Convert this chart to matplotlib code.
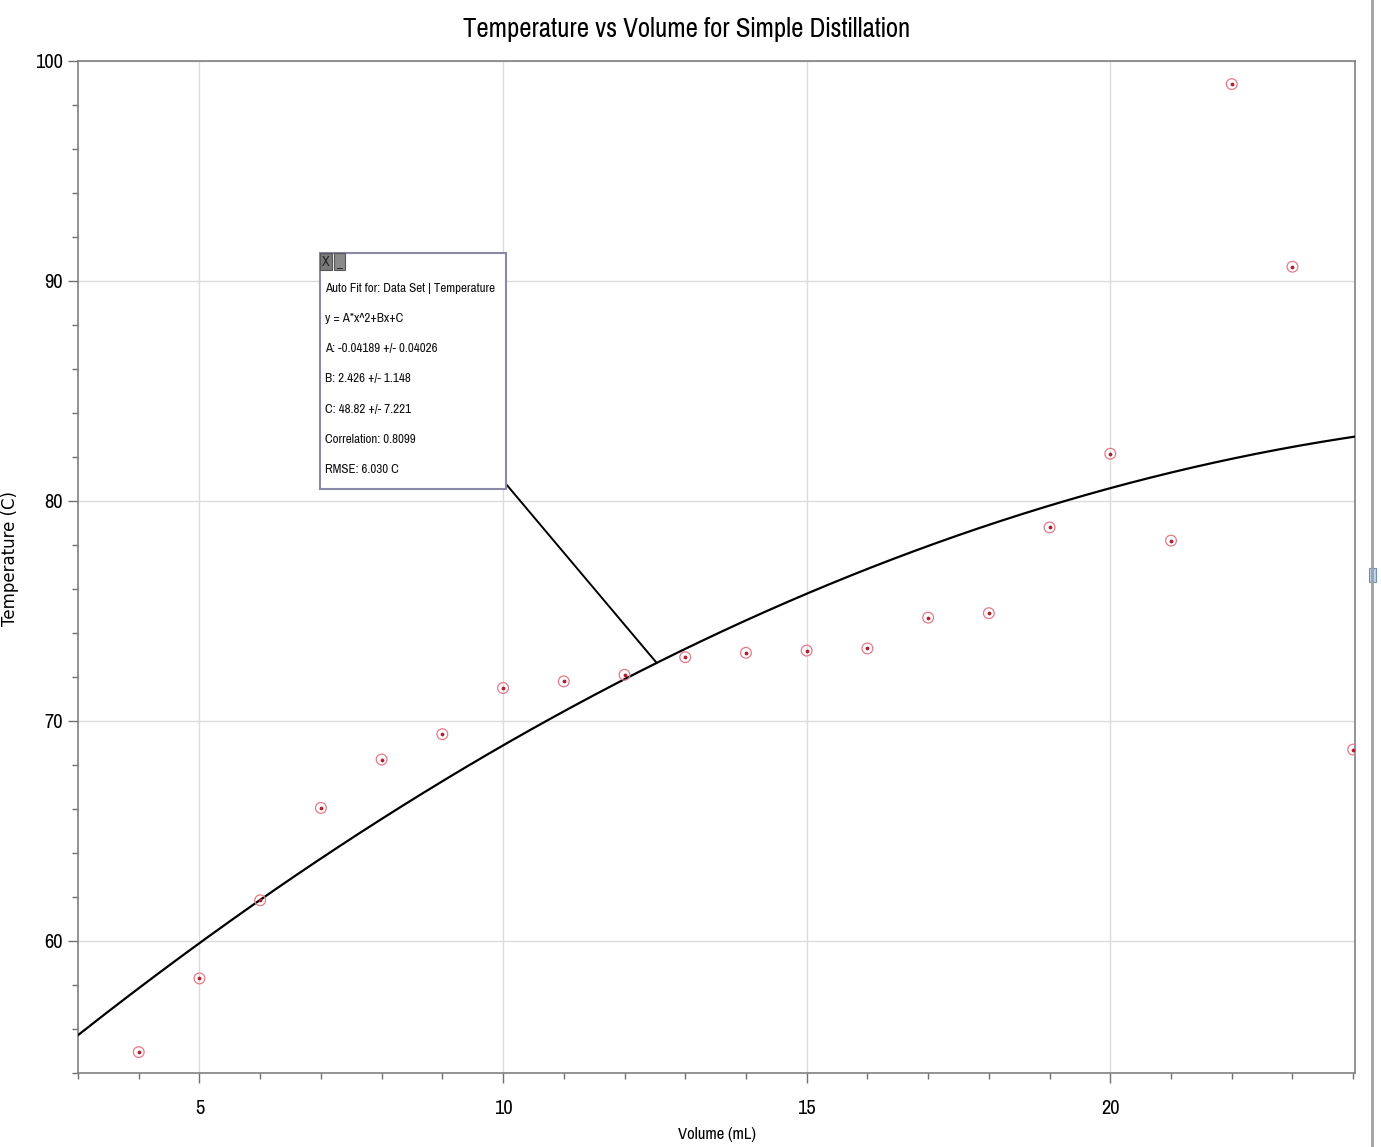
import numpy as np
import matplotlib
matplotlib.use('Agg')
import matplotlib.pyplot as plt
from matplotlib.patches import Rectangle
from matplotlib.lines import Line2D

# data
volume = [4, 5, 6, 7, 8, 9, 10, 11, 12, 13, 14, 15, 16, 17, 18, 19, 20, 21, 22, 23, 24]
temperature = [54.95, 58.3, 61.85, 66.05, 68.25, 69.4, 71.5, 71.8, 72.1, 72.9, 73.1,
               73.2, 73.3, 74.7, 74.9, 78.8, 82.15, 78.2, 98.95, 90.65, 68.7]

# auto fit coefficients (y = A*x^2 + B*x + C)
A, B, C = -0.04189, 2.426, 48.82
fit_lines = ['Auto Fit for: Data Set | Temperature',
             'y = A*x^2+Bx+C',
             'A: -0.04189 +/- 0.04026',
             'B: 2.426 +/- 1.148',
             'C: 48.82 +/- 7.221',
             'Correlation: 0.8099',
             'RMSE: 6.030 C']
fit_label_x = 12.53   # where the callout touches the curve

plt.rcParams['font.family'] = ['Pragati Narrow', 'DejaVu Sans']

W, H = 1381, 1147
fig = plt.figure(figsize=(W / 100, H / 100), dpi=100)
fig.patch.set_facecolor('white')
ax = fig.add_axes([78 / W, 1 - 1073 / H, (1355 - 78) / W, (1073 - 61) / H])

ax.set_xlim(3, 24.03)
ax.set_ylim(54, 100)

# fit curve
xs = np.linspace(3, 24.03, 300)
ax.plot(xs, A * xs ** 2 + B * xs + C, color='black', lw=1.6, zorder=3)

# data points: red open circle with a dot
ax.scatter(volume, temperature, s=60, facecolors='none', edgecolors='#e57a88',
           linewidths=0.9, zorder=4)
ax.scatter(volume, temperature, s=3, color='#b02030', zorder=4)

# ticks and grid
ax.set_xticks([5, 10, 15, 20])
ax.set_xticks(np.arange(3, 25, 1), minor=True)
ax.set_yticks([60, 70, 80, 90, 100])
ax.set_yticks(np.arange(54, 101, 2), minor=True)
ax.grid(True, which='major', color='#dcdcdc', lw=1)
ax.tick_params(which='major', length=7, width=1, color='#707070', labelsize=16)
ax.tick_params(axis='x', which='major', pad=12)
ax.tick_params(axis='y', which='major', pad=4)
ax.tick_params(which='minor', length=4, width=1, color='#707070')
for s in ax.spines.values():
    s.set_color('#808080')
    s.set_linewidth(1.2)

ax.set_title('Temperature vs Volume for Simple Distillation', fontsize=21, pad=17,
             x=(687 - 78) / (1355 - 78))
ax.set_xlabel('Volume (mL)', fontsize=13, labelpad=10)
ax.xaxis.set_label_coords((717 - 78) / (1355 - 78), -(1135 - 1073) / (1073 - 61))
ax.xaxis.label.set_va('center')
ax.set_ylabel('Temperature (C)', fontsize=12, family=['DejaVu Sans'])
ax.yaxis.set_label_coords((19 - 78) / (1355 - 78), (1073 - 559) / (1073 - 61))

# callout box
bx0, by0, bx1, by1 = 320, 253, 506, 489
fig.add_artist(Rectangle((bx0 / W, 1 - by1 / H), (bx1 - bx0) / W, (by1 - by0) / H,
                         transform=fig.transFigure, facecolor='white',
                         edgecolor='#8a8aa8', lw=1.5, zorder=10))
fig.add_artist(Rectangle((bx0 / W, 1 - 270 / H), 12 / W, 17 / H,
                         transform=fig.transFigure, facecolor='#7a7a7a',
                         edgecolor='#555555', lw=0.8, zorder=11))
fig.add_artist(Rectangle((334 / W, 1 - 270 / H), 11 / W, 17 / H,
                         transform=fig.transFigure, facecolor='#8a8a8a',
                         edgecolor='#555555', lw=0.8, zorder=11))
fig.text(326 / W, 1 - 262 / H, 'X', fontsize=11, ha='center', va='center', color='#222222', zorder=12)
fig.text(339.5 / W, 1 - 264 / H, '_', fontsize=10, ha='center', va='center', color='#222222', zorder=12)
for i, line in enumerate(fit_lines):
    fig.text(325 / W, 1 - (288 + 30.3 * i) / H, line, fontsize=10.2, va='center',
             ha='left', color='#111111', zorder=12)

# callout connector
ax.annotate('', xy=(fit_label_x, A * fit_label_x ** 2 + B * fit_label_x + C),
            xytext=(506 / W, 1 - 484 / H), textcoords='figure fraction',
            arrowprops=dict(arrowstyle='-', color='black', lw=1.4, shrinkA=0, shrinkB=0))

# window scroll bar on the right
fig.add_artist(Line2D([1372 / W, 1372 / W], [0, 1], transform=fig.transFigure,
                      color='#a0a0a0', lw=2))
fig.add_artist(Rectangle((1369 / W, 1 - 582 / H), 7 / W, 14 / H, transform=fig.transFigure,
                         facecolor='#b8d4f0', edgecolor='#7090b0', lw=0.8))

fig.savefig('out.png', dpi=100)
